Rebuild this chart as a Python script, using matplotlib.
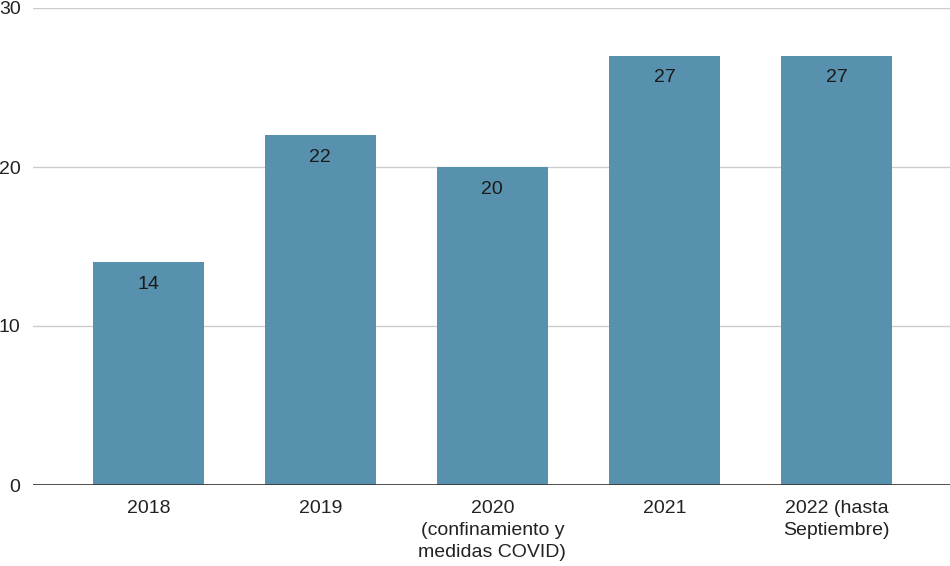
import matplotlib.pyplot as plt

plt.rcParams['font.family'] = ['Liberation Sans', 'DejaVu Sans']

categories = ['2018', '2019', '2020\n(confinamiento y\nmedidas COVID)', '2021',
              '2022 (hasta\nSeptiembre)']
values = [14, 22, 20, 27, 27]

fig = plt.figure(figsize=(9.5, 5.66), dpi=100)
ax = fig.add_axes([33/950, 81/566, 917/950, 477/566])

xs = range(len(values))
bars = ax.bar(xs, values, width=0.645, color='#5891ae', zorder=3)
for b, v in zip(bars, values):
    ax.annotate(str(v), (b.get_x() + b.get_width()/2, v), xytext=(0, -16),
                textcoords='offset points', ha='center', va='center',
                fontsize=14, color='#1a1a1a', zorder=4)

ax.set_xlim(-0.67, 4.66)
ax.set_ylim(0, 30)
ax.set_yticks([0, 10, 20, 30])
ax.set_xticks(list(xs))
ax.set_xticklabels(categories, fontsize=14, color='#222222', linespacing=1.36)
ax.tick_params(axis='y', labelsize=14, labelcolor='#222222', length=0, pad=9)
ax.tick_params(axis='x', length=0, pad=11)
ax.grid(axis='y', color='#cccccc', linewidth=1, zorder=0)
ax.axhline(0, color='#333333', linewidth=1.2, zorder=5)
for s in ax.spines.values():
    s.set_visible(False)

fig.savefig('out.png', dpi=100)
